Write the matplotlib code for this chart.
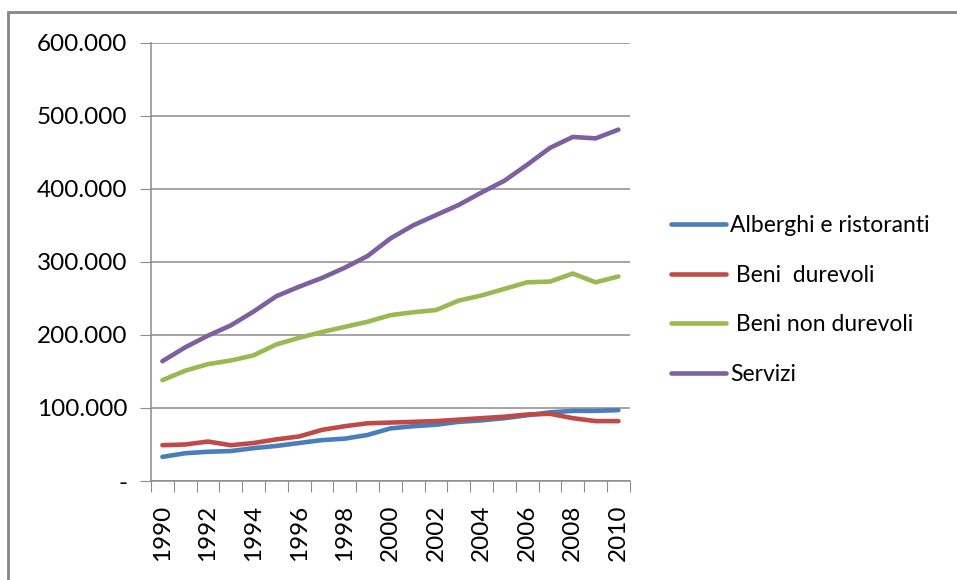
import matplotlib
matplotlib.use("Agg")
import matplotlib.pyplot as plt
from matplotlib.patches import Rectangle
from matplotlib.ticker import FixedLocator, FuncFormatter

# dati (migliaia)
anni = list(range(1990, 2011))
alberghi = [33, 38, 40, 41, 45, 48, 52, 56, 58, 63, 72, 75, 77, 81, 83, 86, 90, 94, 96, 96, 97]
beni_durevoli = [49, 50, 54, 49, 52, 57, 61, 70, 75, 79, 80, 81, 82, 84, 86, 88, 91, 92, 86, 82, 82]
beni_non_durevoli = [138, 151, 160, 165, 172, 187, 196, 204, 211, 218, 227, 231, 234, 247, 254, 263, 272, 273, 284, 272, 280]
servizi = [164, 183, 199, 213, 232, 253, 266, 278, 292, 308, 332, 350, 364, 378, 395, 411, 433, 456, 471, 469, 481]

serie = [
    ("Alberghi e ristoranti", alberghi, "#4A7EBB"),
    (" Beni  durevoli", beni_durevoli, "#BE4B48"),
    (" Beni non durevoli", beni_non_durevoli, "#98B954"),
    ("Servizi", servizi, "#7D60A0"),
]

plt.rcParams['font.family'] = ['Lato', 'DejaVu Sans']
fs = 17.5

fig = plt.figure(figsize=(9.57, 5.8), dpi=100)
ax = fig.add_axes([151/957, 1 - 481/580, (629.8 - 151)/957, (481 - 42.7)/580])

x = list(range(len(anni)))
for nome, vals, col in serie:
    ax.plot(x, [v * 1000 for v in vals], color=col, lw=3.3, label=nome,
            solid_capstyle='round', solid_joinstyle='round')

ax.set_xlim(-0.5, len(anni) - 0.5)
ax.set_ylim(0, 600000)
ax.set_yticks(range(0, 600001, 100000))
ax.yaxis.set_major_formatter(FuncFormatter(
    lambda v, p: "-" if v == 0 else f"{int(v/1000)}.000"))
ax.grid(axis='y', color='#8C8C8C', lw=1.1)
ax.set_axisbelow(True)

# tacche ai confini delle categorie, etichette sugli anni pari
ax.xaxis.set_major_locator(FixedLocator([i - 0.5 for i in range(len(anni) + 1)]))
ax.xaxis.set_major_formatter(FuncFormatter(lambda v, p: ""))
ax.xaxis.set_minor_locator(FixedLocator(x[::2]))
ax.xaxis.set_minor_formatter(FuncFormatter(lambda v, p: str(anni[int(round(v))])))
ax.tick_params(axis='x', which='major', length=8, color='#8C8C8C', direction='out')
ax.tick_params(axis='x', which='minor', length=0, labelsize=fs, labelrotation=90, pad=17)
ax.tick_params(axis='y', length=8, color='#8C8C8C', labelsize=fs, pad=9)

for s in ['top', 'right']:
    ax.spines[s].set_visible(False)
for s in ['left', 'bottom']:
    ax.spines[s].set_color('#8C8C8C')
    ax.spines[s].set_linewidth(1.1)

ax.legend(loc='center left', bbox_to_anchor=(650/957, 1 - 300/580),
          bbox_transform=fig.transFigure, frameon=False, fontsize=16.5,
          handlelength=2.4, handletextpad=0.2, labelspacing=1.25)

# bordo dell'area grafico
fig.add_artist(Rectangle((8/957, -0.1), 1.2, 1 - 12/580 + 0.1, transform=fig.transFigure,
                         fill=False, edgecolor='#868686', lw=2))

fig.savefig("out.png", dpi=100)
